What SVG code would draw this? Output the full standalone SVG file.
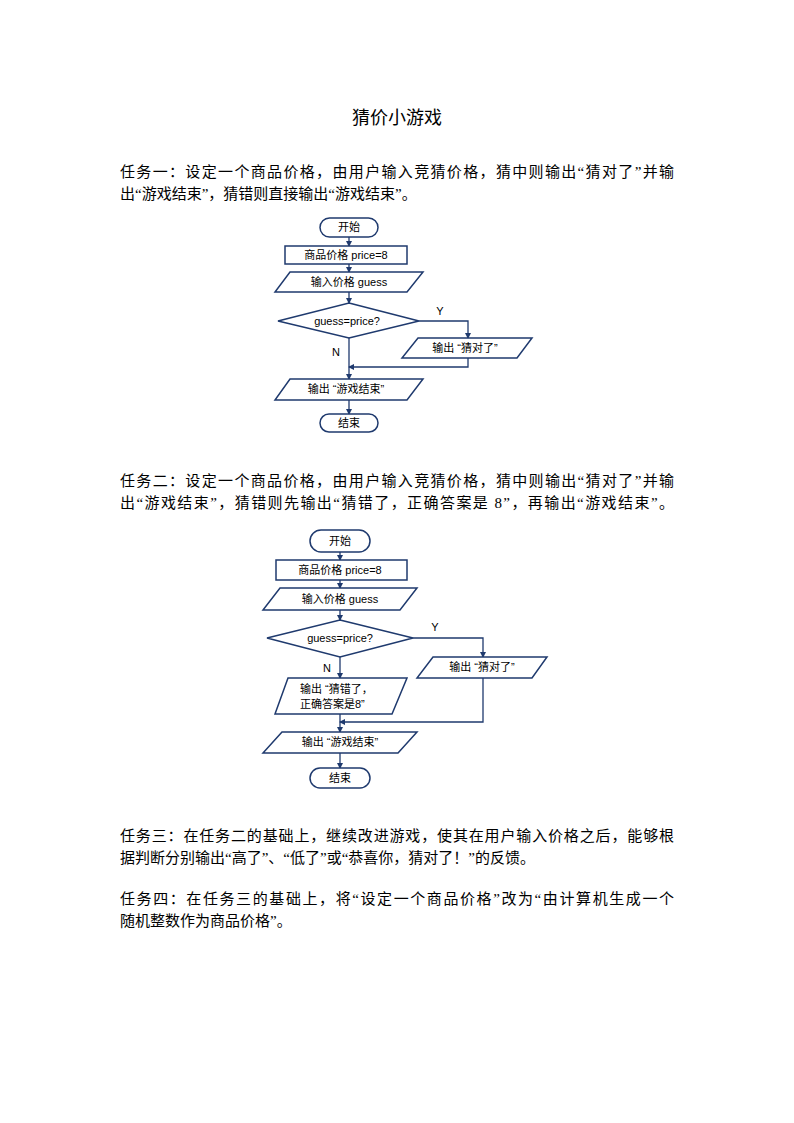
<svg xmlns="http://www.w3.org/2000/svg" width="794" height="1123" viewBox="0 0 794 1123">
<style>
.s{fill:#fff;stroke:#1f3a6e;stroke-width:1.5}
.l{fill:none;stroke:#1f3a6e;stroke-width:1.3}
.t{font-family:"Liberation Sans","Noto Sans CJK SC",sans-serif;font-size:11px;fill:#000;text-anchor:middle}
.p{font-family:"Liberation Serif","Noto Sans CJK SC",serif;font-size:15px;fill:#000}
</style>
<defs><marker id="a" markerWidth="6" markerHeight="6" refX="5" refY="3" orient="auto" markerUnits="userSpaceOnUse"><path d="M0,0 L6,3 L0,6 z" fill="#1f3a6e"/></marker></defs>
<rect width="794" height="1123" fill="#fff"/>
<text x="397" y="124" class="p" style="font-size:18px" text-anchor="middle">猜价小游戏</text>
<text x="120" y="177" class="p" textLength="554" lengthAdjust="spacing">任务一：设定一个商品价格，由用户输入竞猜价格，猜中则输出“猜对了”并输</text>
<text x="120" y="199" class="p">出“游戏结束”，猜错则直接输出“游戏结束”。</text>
<text x="120" y="486" class="p" textLength="554" lengthAdjust="spacing">任务二：设定一个商品价格，由用户输入竞猜价格，猜中则输出“猜对了”并输</text>
<text x="120" y="508" class="p" textLength="554" lengthAdjust="spacing">出“游戏结束”，猜错则先输出“猜错了，正确答案是 8”，再输出“游戏结束”。</text>
<text x="120" y="841" class="p" textLength="554" lengthAdjust="spacing">任务三：在任务二的基础上，继续改进游戏，使其在用户输入价格之后，能够根</text>
<text x="120" y="863" class="p">据判断分别输出“高了”、“低了”或“恭喜你，猜对了！”的反馈。</text>
<text x="120" y="904" class="p" textLength="554" lengthAdjust="spacing">任务四：在任务三的基础上，将“设定一个商品价格”改为“由计算机生成一个</text>
<text x="120" y="926" class="p">随机整数作为商品价格”。</text>

<g id="connectors1">
<path class="l" d="M349,237 V246" marker-end="url(#a)"/>
<path class="l" d="M349,264 V272" marker-end="url(#a)"/>
<path class="l" d="M349,292 V303" marker-end="url(#a)"/>
<path class="l" d="M419,321 H468 V338" marker-end="url(#a)"/>
<path class="l" d="M349,338 V379" marker-end="url(#a)"/>
<path class="l" d="M468,358 V367 H349" marker-end="url(#a)"/>
<path class="l" d="M349,400 V414" marker-end="url(#a)"/>
<text x="440" y="315" class="t">Y</text>
<text x="336" y="356" class="t">N</text>
</g>
<g id="f1start"><rect class="s" x="320" y="218" width="58" height="19" rx="9.5"/><text x="349" y="231" class="t">开始</text></g>
<g id="f1price"><rect class="s" x="285" y="246" width="122" height="18"/><text x="346" y="259" class="t">商品价格 price=8</text></g>
<g id="f1input"><path class="s" d="M290,272 H423 L407,292 H275 Z"/><text x="349" y="286" class="t">输入价格 guess</text></g>
<g id="f1dec"><path class="s" d="M349,303 L419,321 L349,338 L278,321 Z"/><text x="347" y="325" class="t">guess=price?</text></g>
<g id="f1right"><path class="s" d="M418,338 H532 L517,358 H402 Z"/><text x="465" y="352" class="t">输出 “猜对了”</text></g>
<g id="f1out"><path class="s" d="M290,379 H423 L407,400 H275 Z"/><text x="346" y="393" class="t">输出 “游戏结束”</text></g>
<g id="f1end"><rect class="s" x="320" y="414" width="58" height="18" rx="9"/><text x="349" y="427" class="t">结束</text></g>

<g id="connectors2">
<path class="l" d="M340,552 V560" marker-end="url(#a)"/>
<path class="l" d="M340,580 V588" marker-end="url(#a)"/>
<path class="l" d="M340,610 V620" marker-end="url(#a)"/>
<path class="l" d="M413,638 H483 V657" marker-end="url(#a)"/>
<path class="l" d="M340,657 V678" marker-end="url(#a)"/>
<path class="l" d="M483,678 V722 H340" marker-end="url(#a)"/>
<path class="l" d="M340,714 V732" marker-end="url(#a)"/>
<path class="l" d="M340,753 V768" marker-end="url(#a)"/>
<text x="435" y="631" class="t">Y</text>
<text x="327" y="672" class="t">N</text>
</g>
<g id="f2start"><rect class="s" x="310" y="530" width="60" height="22" rx="11"/><text x="340" y="545" class="t">开始</text></g>
<g id="f2price"><rect class="s" x="276" y="560" width="131" height="20"/><text x="340" y="574" class="t">商品价格 price=8</text></g>
<g id="f2input"><path class="s" d="M280,588 H417 L400,610 H263 Z"/><text x="340" y="603" class="t">输入价格 guess</text></g>
<g id="f2dec"><path class="s" d="M340,620 L413,638 L340,657 L267,638 Z"/><text x="340" y="642" class="t">guess=price?</text></g>
<g id="f2right"><path class="s" d="M433,657 H547 L532,678 H417 Z"/><text x="482" y="671" class="t">输出 “猜对了”</text></g>
<g id="f2wrong"><path class="s" d="M288,678 H407 L392,714 H275 Z"/><text x="300" y="693" class="t" text-anchor="start" style="text-anchor:start">输出 “猜错了，</text><text x="300" y="708" class="t" style="text-anchor:start">正确答案是8”</text></g>
<g id="f2out"><path class="s" d="M282,732 H417 L398,753 H263 Z"/><text x="340" y="746" class="t">输出 “游戏结束”</text></g>
<g id="f2end"><rect class="s" x="310" y="768" width="60" height="20" rx="10"/><text x="340" y="782" class="t">结束</text></g>
</svg>
